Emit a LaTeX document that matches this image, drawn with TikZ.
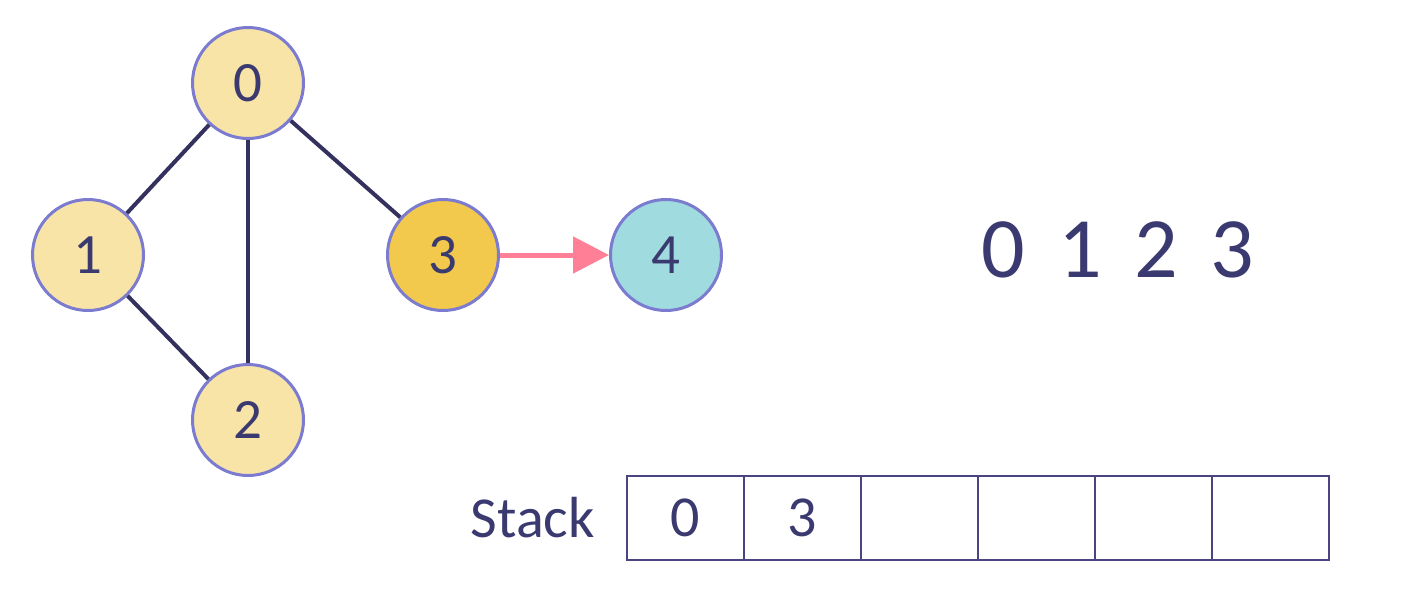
\documentclass[tikz,border=0pt]{standalone}
\usepackage{fontspec}
\setmainfont{Carlito}
\usetikzlibrary{arrows.meta}
\definecolor{ink}{HTML}{3B3A70}
\definecolor{ring}{HTML}{7B7BD0}
\definecolor{pale}{HTML}{F9E4A8}
\definecolor{gold}{HTML}{F2C94C}
\definecolor{teal}{HTML}{9FDBDF}
\definecolor{pink}{HTML}{FF8096}
\definecolor{edgec}{HTML}{35315F}
\definecolor{boxc}{HTML}{4A4580}
\begin{document}
\begin{tikzpicture}[x=1pt,y=-1pt,
  vert/.style={circle,draw=ring,line width=3pt,minimum size=111pt,inner sep=0pt,text=ink,font=\fontsize{57}{60}\selectfont},
  edge/.style={draw=edgec,line width=4pt},
  cell/.style={draw=boxc,line width=1.8pt,minimum width=117pt,minimum height=84pt,inner sep=0pt,outer sep=0pt,text=ink,font=\fontsize{58}{60}\selectfont,anchor=west},
  lab/.style={text=ink,inner sep=0pt}]
\useasboundingbox (0,0) rectangle (1415,597);
\node[vert,fill=pale] (n0) at (248,83) {0};
\node[vert,fill=pale] (n1) at (88,255) {1};
\node[vert,fill=pale] (n2) at (248,420) {2};
\node[vert,fill=gold] (n3) at (443,255) {3};
\node[vert,fill=teal] (n4) at (666,255) {4};
\draw[edge] (n0) -- (n1);
\draw[edge] (n0) -- (n2);
\draw[edge] (n0) -- (n3);
\draw[edge] (n1) -- (n2);
\draw[draw=pink,line width=5pt,-{Triangle[length=36pt,width=36pt]}] (n3) -- (n4);
\node[lab,font=\fontsize{86}{90}\selectfont] (seq) at (1118,250) {0\hspace{0.38em}1\hspace{0.38em}2\hspace{0.38em}3};
\node[cell] (c1) at (627,518) {0};
\node[cell] (c2) at (c1.east) {3};
\node[cell] (c3) at (c2.east) {};
\node[cell] (c4) at (c3.east) {};
\node[cell] (c5) at (c4.east) {};
\node[cell] (c6) at (c5.east) {};
\node[lab,anchor=east,font=\fontsize{58}{60}\selectfont] (stk) at (595,518) {Stack};
\end{tikzpicture}
\end{document}
